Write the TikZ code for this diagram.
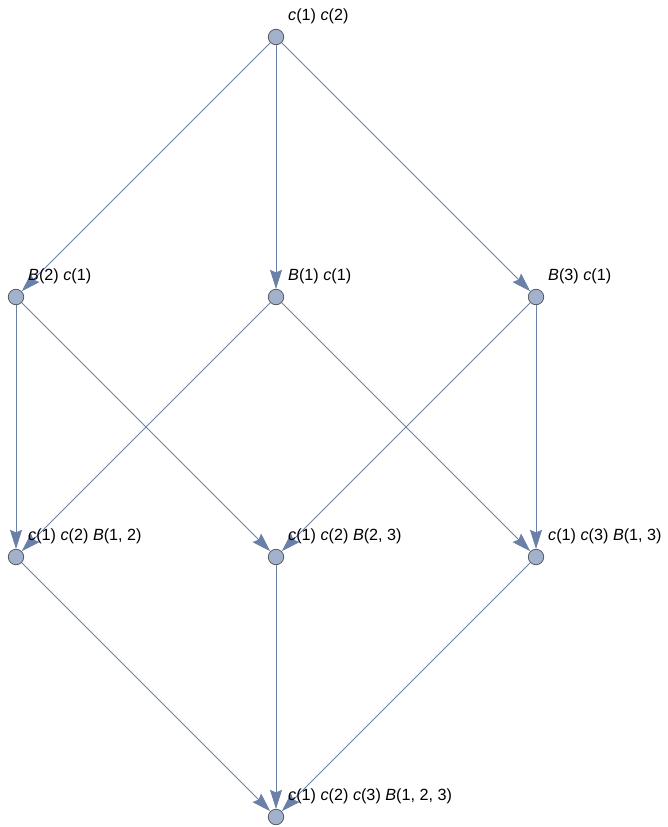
\documentclass[tikz,border=0pt]{standalone}
\usepackage{fontspec}
\setmainfont{Liberation Sans}
\usetikzlibrary{arrows.meta}
\definecolor{edgec}{RGB}{106,128,168}
\definecolor{vfill}{RGB}{163,178,204}
\definecolor{vdraw}{RGB}{80,80,80}
\tikzset{
  vert/.style={circle,fill=vfill,draw=vdraw,line width=0.7pt,minimum size=15.5pt,inner sep=0pt},
  lbl/.style={anchor=west,inner sep=0pt,font=\fontsize{16.2}{19}\selectfont},
  edge/.style={draw=edgec,line width=0.8pt,-{Stealth[length=19pt,width=12pt,inset=2.5pt]},shorten >=0pt}
}
\begin{document}
\begin{tikzpicture}[x=1pt,y=-1pt]
\useasboundingbox (0,0) rectangle (668,827);
\node[vert] (t) at (276,37) {};
\node[vert] (m1) at (16,297) {};
\node[vert] (m2) at (276,297) {};
\node[vert] (m3) at (536,297) {};
\node[vert] (r1) at (16,557) {};
\node[vert] (r2) at (276,557) {};
\node[vert] (r3) at (536,557) {};
\node[vert] (b) at (276,817) {};
\draw[edge] (t) -- (m1);
\draw[edge] (t) -- (m2);
\draw[edge] (t) -- (m3);
\draw[edge] (m1) -- (r1);
\draw[edge] (m1) -- (r2);
\draw[edge] (m2) -- (r1);
\draw[edge] (m2) -- (r3);
\draw[edge] (m3) -- (r2);
\draw[edge] (m3) -- (r3);
\draw[edge] (r1) -- (b);
\draw[edge] (r2) -- (b);
\draw[edge] (r3) -- (b);
\node[lbl] (lt) at (288,16) {\textit{c}(1) \textit{c}(2)};
\node[lbl] (lm1) at (28,276) {\textit{B}(2) \textit{c}(1)};
\node[lbl] (lm2) at (288,276) {\textit{B}(1) \textit{c}(1)};
\node[lbl] (lm3) at (548,276) {\textit{B}(3) \textit{c}(1)};
\node[lbl] (lr1) at (28,536) {\textit{c}(1) \textit{c}(2) \textit{B}(1, 2)};
\node[lbl] (lr2) at (288,536) {\textit{c}(1) \textit{c}(2) \textit{B}(2, 3)};
\node[lbl] (lr3) at (548,536) {\textit{c}(1) \textit{c}(3) \textit{B}(1, 3)};
\node[lbl] (lb) at (288,796) {\textit{c}(1) \textit{c}(2) \textit{c}(3) \textit{B}(1, 2, 3)};
\end{tikzpicture}
\end{document}
